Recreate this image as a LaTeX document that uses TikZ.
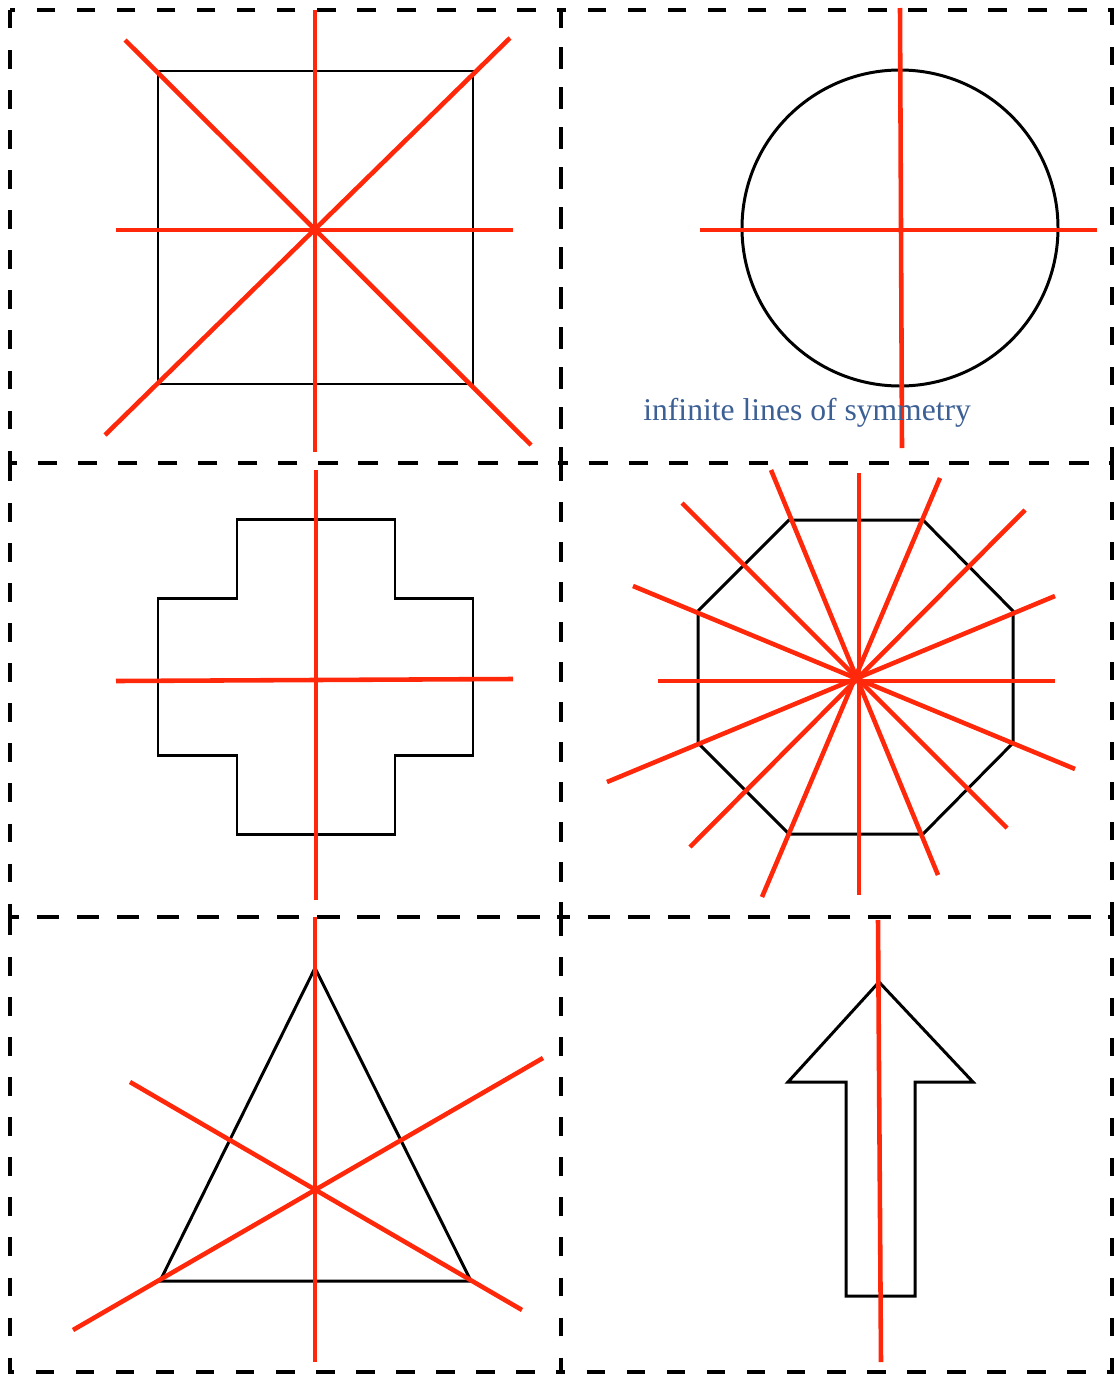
\documentclass[tikz,border=0pt]{standalone}
\usepackage{fontspec}
\setmainfont{Liberation Serif}
\usepackage{tikz}
\definecolor{symred}{RGB}{255,40,10}
\definecolor{notecol}{RGB}{60,95,148}

\begin{document}
\begin{tikzpicture}[x=0.02cm, y=-0.02cm,
  cellbox/.style={draw, line width=2.5pt, dash pattern=on 10.5pt off 12.3pt},
  outline/.style={draw, line width=1.7pt, line join=miter},
  symline/.style={draw=symred, line width=2.6pt}]
\useasboundingbox (0,0) rectangle (1114,1376);
% dashed cells
\foreach \xa/\xb in {10/561, 561/1112}
  \foreach \ya/\yb in {10/463, 463/917, 917/1372}
    \draw[cellbox] (\xa,\ya) rectangle (\xb,\yb);
% square
\draw[outline] (158,71) rectangle (473,384);
\draw[symline] (315,10) -- (315,452);
\draw[symline] (116,230) -- (513,230);
\draw[symline] (125,40) -- (531,445);
\draw[symline] (105,435) -- (510,38);
% circle
\draw[outline] (900,228) circle[radius=158];
\draw[symline] (900,8) -- (902,448);
\draw[symline] (700,230) -- (1097,230);
\node[text=notecol, font=\fontsize{18}{20}\selectfont, anchor=base west, inner sep=0]
  (note) at (643,420) {infinite lines of symmetry};
% cross
\draw[outline] (237,519) -- (395,519) -- (395,598) -- (473,598) -- (473,755)
  -- (395,755) -- (395,834) -- (237,834) -- (237,755) -- (158,755)
  -- (158,598) -- (237,598) -- cycle;
\draw[symline] (316,470) -- (316,900);
\draw[symline] (116,681) -- (513,679);
% octagon
\draw[outline] (789,520) -- (923,520) -- (1013,611) -- (1013,743) -- (923,834)
  -- (789,834) -- (698,743) -- (698,611) -- cycle;
\foreach \ax/\ay/\bx/\by in {859/473/859/895, 771/470/938/875, 940/478/762/897,
    1025/510/690/847, 1055/596/607/782, 658/681/1055/681, 1075/769/633/586,
    1007/828/682/503}
  \draw[symline] (\ax,\ay) -- (\bx,\by);
% triangle
\draw[outline] (315,968) -- (471,1281) -- (160,1281) -- cycle;
\draw[symline] (315,917) -- (315,1362);
\draw[symline] (130,1082) -- (522,1310);
\draw[symline] (73,1330) -- (543,1058);
% arrow
\draw[outline] (879,982) -- (973,1082) -- (915,1082) -- (915,1296) -- (846,1296)
  -- (846,1082) -- (788,1082) -- cycle;
\draw[symline] (878,920) -- (881,1362);
\end{tikzpicture}
\end{document}
